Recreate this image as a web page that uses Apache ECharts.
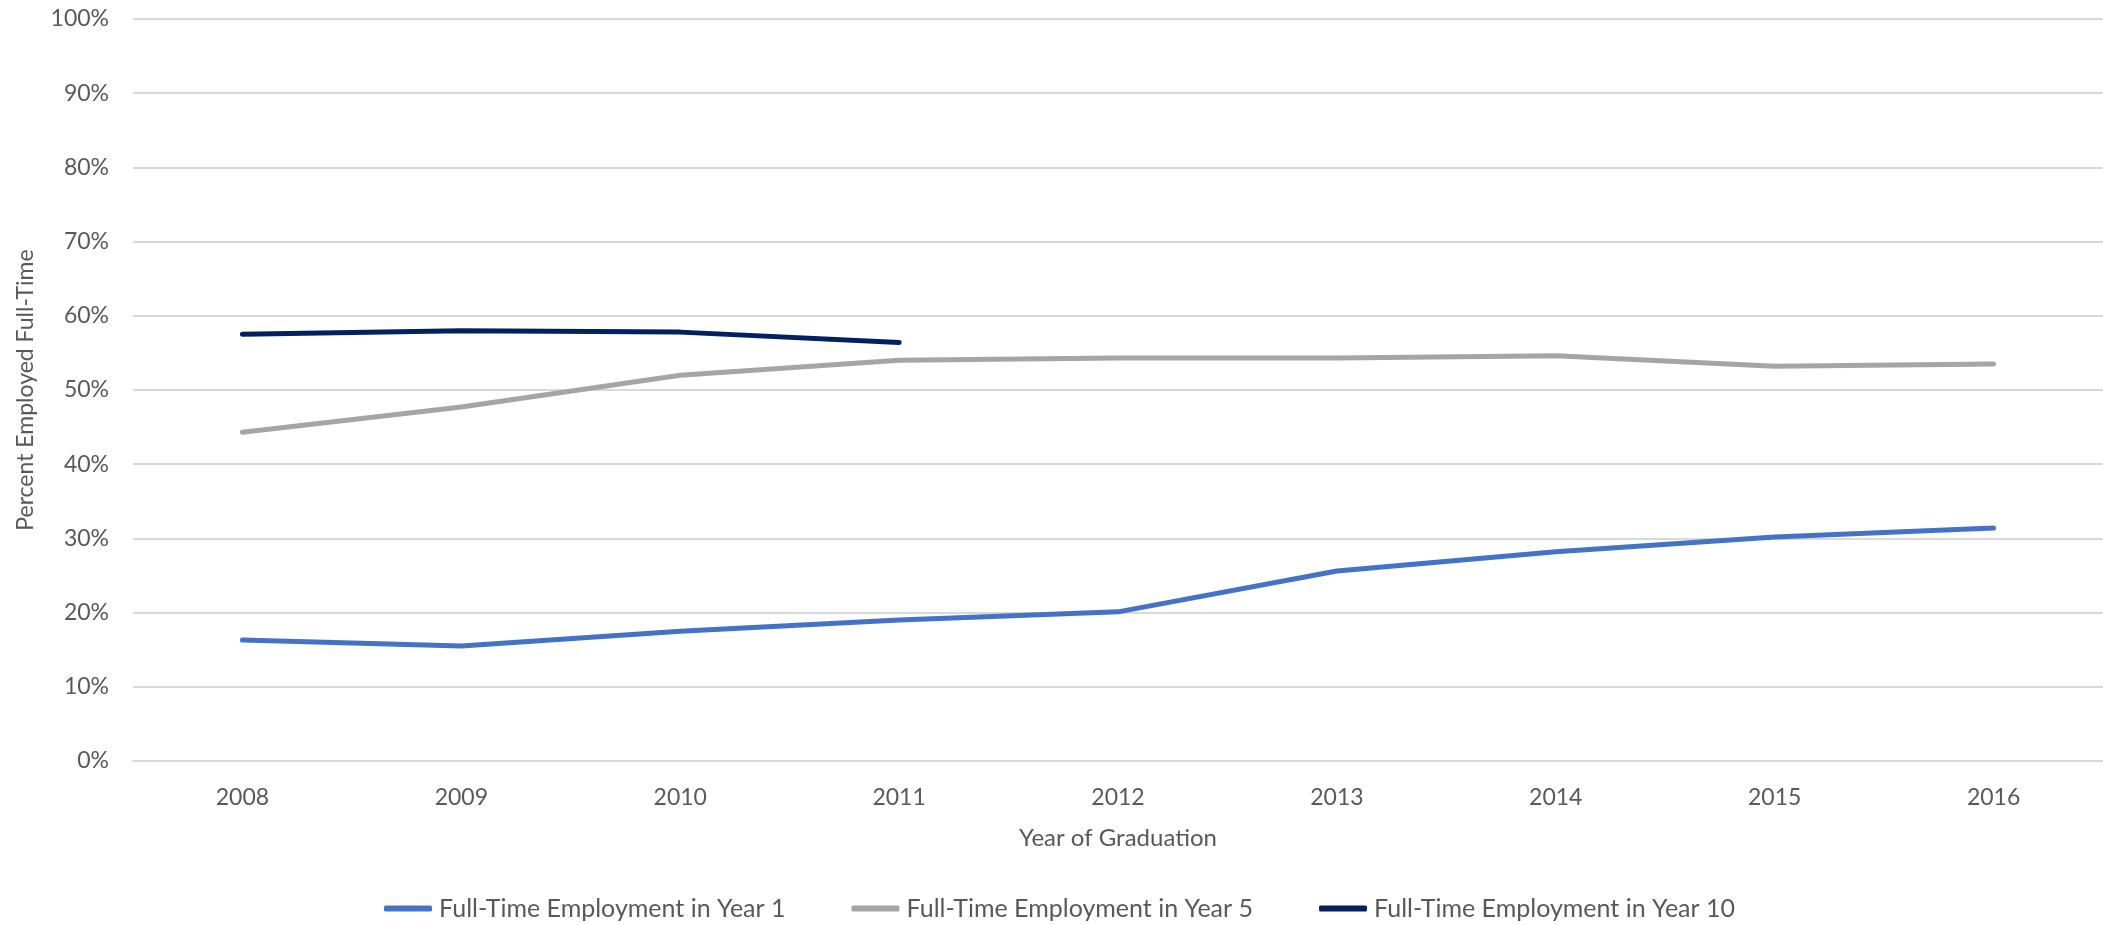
<!DOCTYPE html>
<html>
<head>
<meta charset="utf-8">
<script src="https://cdn.jsdelivr.net/npm/echarts@6/dist/echarts.min.js"></script>
<style>
html,body{margin:0;padding:0;background:#fff;}
#chart{width:2103px;height:925px;}
</style>
</head>
<body>
<div id="chart"></div>
<script>
const years = ['2008','2009','2010','2011','2012','2013','2014','2015','2016'];
const year1 = [16.3, 15.5, 17.5, 19.0, 20.1, 25.6, 28.2, 30.2, 31.4];
const year5 = [44.3, 47.7, 52.0, 54.0, 54.3, 54.3, 54.6, 53.2, 53.5];
const year10 = [57.5, 58.0, 57.8, 56.4, null, null, null, null, null];
const seriesNames = ['Full-Time Employment in Year 1','Full-Time Employment in Year 5','Full-Time Employment in Year 10'];
const colors = ['#4472C4','#A5A5A5','#002060'];

const FONT = 'Lato';
const TXT = '#595959';
const chart = echarts.init(document.getElementById('chart'), null, {renderer:'canvas'});
const mk = (name, data, color) => ({
  name, type:'line', data, showSymbol:false, symbol:'none',
  lineStyle:{width:5, color, cap:'round', join:'round'}, itemStyle:{color},
  connectNulls:false, animation:false
});
chart.setOption({
  animation:false,
  backgroundColor:'#fff',
  grid:{left:133, top:19, width:1975, height:742},
  legend:{
    data:seriesNames, top:891, left:379, icon:'roundRect',
    itemWidth:48, itemHeight:6, itemGap:66,
    textStyle:{color:TXT, fontFamily:FONT, fontSize:25, padding:[0,0,0,2]}
  },
  xAxis:{
    type:'category', data:years, boundaryGap:true,
    axisLine:{show:true, lineStyle:{color:'#D9D9D9', width:2}},
    axisTick:{show:false},
    axisLabel:{color:TXT, fontFamily:FONT, fontSize:23, margin:25},
    name:'Year of Graduation', nameLocation:'middle', nameGap:65,
    nameTextStyle:{color:TXT, fontFamily:FONT, fontSize:24}
  },
  yAxis:{
    type:'value', min:0, max:100, interval:10,
    axisLine:{show:false}, axisTick:{show:false},
    splitLine:{lineStyle:{color:'#D9D9D9', width:2}},
    axisLabel:{color:TXT, fontFamily:FONT, fontSize:23, margin:24, formatter:'{value}%'},
    name:'Percent Employed Full-Time', nameLocation:'middle', nameGap:96,
    nameTextStyle:{color:TXT, fontFamily:FONT, fontSize:23}
  },
  series:[mk(seriesNames[0], year1, colors[0]), mk(seriesNames[1], year5, colors[1]), mk(seriesNames[2], year10, colors[2])]
});
</script>
</body>
</html>
